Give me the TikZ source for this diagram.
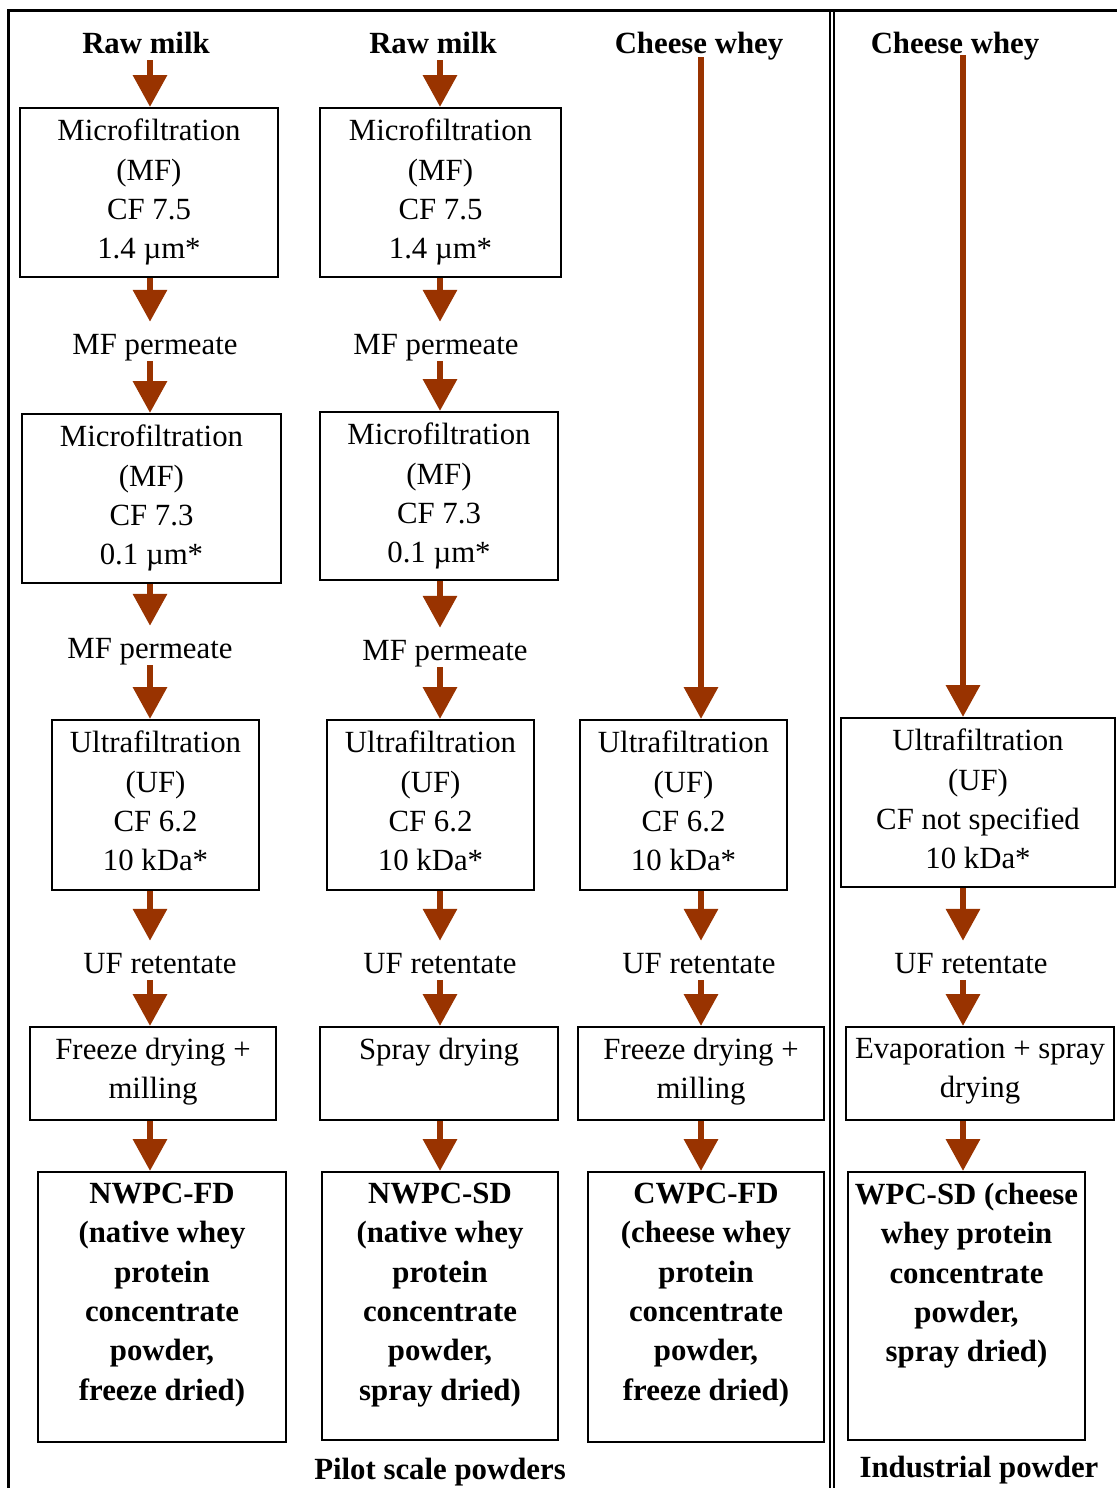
\documentclass[tikz,border=0pt]{standalone}
\usepackage{fontspec}
\setmainfont{Liberation Serif}
\usepackage{tikz}
\usetikzlibrary{positioning,arrows.meta}
\definecolor{flowbrown}{RGB}{153,51,0}

\begin{document}
\begin{tikzpicture}[
  x=1pt, y=-1pt,
  font=\fontsize{30.8}{39.3}\selectfont,
  procbox/.style={
    rectangle,
    draw=black,
    line width=2pt,
    inner sep=0pt
  },
  boxtext/.style={
    inner sep=0pt,
    align=center
  },
  prodtext/.style={
    boxtext,
    font=\fontsize{30.8}{39.3}\selectfont\bfseries
  },
  head/.style={
    inner sep=0pt,
    text depth=6pt,
    font=\fontsize{30.8}{39.3}\selectfont\bfseries
  },
  stream/.style={
    inner sep=0pt,
    text height=32pt,
    text depth=7pt
  },
  flow/.style={
    -{Triangle[width=33pt,length=32pt]},
    line width=6.5pt,
    draw=flowbrown
  }
]
\useasboundingbox (0,0) rectangle (1117,1488);

% Frame
\draw[line width=3pt] (8.5,1488) -- (8.5,11) -- (1117,11);
\draw[line width=2pt] (829.5,11) -- (829.5,1488);
\draw[line width=2pt] (833.5,11) -- (833.5,1488);

% Column axes
\coordinate (axa) at (150,0);
\coordinate (axb) at (440,0);
\coordinate (axc) at (701,0);
\coordinate (axd) at (963,0);

% Raw milk, route 1
\node[head, anchor=base] (rawa) at (146,54) {Raw milk};
\node[procbox, minimum width=258pt, minimum height=169pt] (mf1a) at (149,192.5) {};
\node[boxtext, below=12pt of mf1a.north] (mf1atxt) {Microfiltration\\(MF)\\CF 7.5\\1.4 µm*};
\node[stream, anchor=base] (perm1a) at (155,354) {MF permeate};
\node[procbox, minimum width=259pt, minimum height=169pt] (mf2a) at (151.5,498.5) {};
\node[boxtext, below=12pt of mf2a.north] (mf2atxt) {Microfiltration\\(MF)\\CF 7.3\\0.1 µm*};
\node[stream, anchor=base] (perm2a) at (150,658) {MF permeate};
\node[procbox, minimum width=207pt, minimum height=170pt] (ufa) at (155.5,805) {};
\node[boxtext, below=12pt of ufa.north] (ufatxt) {Ultrafiltration\\(UF)\\CF 6.2\\10 kDa*};
\node[stream, anchor=base] (reta) at (160,973) {UF retentate};
\node[procbox, minimum width=246pt, minimum height=93pt] (fda) at (153,1073.5) {};
\node[boxtext, below=12pt of fda.north] (fdatxt) {Freeze drying +\\milling};
\node[procbox, minimum width=248pt, minimum height=270pt] (proda) at (162,1307) {};
\node[prodtext, below=12pt of proda.north] (prodatxt) {NWPC-FD\\(native whey\\protein\\concentrate\\powder,\\freeze dried)};

% Raw milk, route 2
\node[head, anchor=base] (rawb) at (433,54) {Raw milk};
\node[procbox, minimum width=241pt, minimum height=169pt] (mf1b) at (440.5,192.5) {};
\node[boxtext, below=12pt of mf1b.north] (mf1btxt) {Microfiltration\\(MF)\\CF 7.5\\1.4 µm*};
\node[stream, anchor=base] (perm1b) at (436,354) {MF permeate};
\node[procbox, minimum width=238pt, minimum height=168pt] (mf2b) at (439,496) {};
\node[boxtext, below=12pt of mf2b.north] (mf2btxt) {Microfiltration\\(MF)\\CF 7.3\\0.1 µm*};
\node[stream, anchor=base] (perm2b) at (445,660) {MF permeate};
\node[procbox, minimum width=207pt, minimum height=170pt] (ufb) at (430.5,805) {};
\node[boxtext, below=12pt of ufb.north] (ufbtxt) {Ultrafiltration\\(UF)\\CF 6.2\\10 kDa*};
\node[stream, anchor=base] (retb) at (440,973) {UF retentate};
\node[procbox, minimum width=238pt, minimum height=93pt] (sdb) at (439,1073.5) {};
\node[boxtext, below=12pt of sdb.north] (sdbtxt) {Spray drying};
\node[procbox, minimum width=236pt, minimum height=268pt] (prodb) at (440,1306) {};
\node[prodtext, below=12pt of prodb.north] (prodbtxt) {NWPC-SD\\(native whey\\protein\\concentrate\\powder,\\spray dried)};

% Cheese whey, pilot
\node[head, anchor=base, text depth=4pt] (wheyc) at (699,53) {Cheese whey};
\node[procbox, minimum width=207pt, minimum height=170pt] (ufc) at (683.5,805) {};
\node[boxtext, below=12pt of ufc.north] (ufctxt) {Ultrafiltration\\(UF)\\CF 6.2\\10 kDa*};
\node[stream, anchor=base] (retc) at (699,973) {UF retentate};
\node[procbox, minimum width=246pt, minimum height=93pt] (fdc) at (701,1073.5) {};
\node[boxtext, below=12pt of fdc.north] (fdctxt) {Freeze drying +\\milling};
\node[procbox, minimum width=236pt, minimum height=270pt] (prodc) at (706,1307) {};
\node[prodtext, below=12pt of prodc.north] (prodctxt) {CWPC-FD\\(cheese whey\\protein\\concentrate\\powder,\\freeze dried)};

% Cheese whey, industrial
\node[head, anchor=base, text depth=2pt] (wheyd) at (955,53) {Cheese whey};
\node[procbox, minimum width=274pt, minimum height=169pt] (ufd) at (978,802.5) {};
\node[boxtext, below=12pt of ufd.north] (ufdtxt) {Ultrafiltration\\(UF)\\CF not specified\\10 kDa*};
\node[stream, anchor=base] (retd) at (971,973) {UF retentate};
\node[procbox, minimum width=268pt, minimum height=93pt] (evd) at (980,1073.5) {};
\node[boxtext, below=12pt of evd.north] (evdtxt) {Evaporation + spray\\drying};
\node[procbox, minimum width=237pt, minimum height=268pt] (prodd) at (966.5,1306) {};
\node[prodtext, below=12pt of prodd.north] (proddtxt) {WPC-SD (cheese\\whey protein\\concentrate\\powder,\\spray dried)};

% Captions
\node[head, anchor=base] (pilot) at (440,1479) {Pilot scale powders};
\node[head, anchor=base] (indus) at (979,1477) {Industrial powder};

% Flows
\draw[flow] (rawa.south -| axa) -- (mf1a.north -| axa);
\draw[flow] (mf1a.south -| axa) -- (perm1a.north -| axa);
\draw[flow] (perm1a.south -| axa) -- (mf2a.north -| axa);
\draw[flow] (mf2a.south -| axa) -- (perm2a.north -| axa);
\draw[flow] (perm2a.south -| axa) -- (ufa.north -| axa);
\draw[flow] (ufa.south -| axa) -- (reta.north -| axa);
\draw[flow] (reta.south -| axa) -- (fda.north -| axa);
\draw[flow] (fda.south -| axa) -- (proda.north -| axa);

\draw[flow] (rawb.south -| axb) -- (mf1b.north -| axb);
\draw[flow] (mf1b.south -| axb) -- (perm1b.north -| axb);
\draw[flow] (perm1b.south -| axb) -- (mf2b.north -| axb);
\draw[flow] (mf2b.south -| axb) -- (perm2b.north -| axb);
\draw[flow] (perm2b.south -| axb) -- (ufb.north -| axb);
\draw[flow] (ufb.south -| axb) -- (retb.north -| axb);
\draw[flow] (retb.south -| axb) -- (sdb.north -| axb);
\draw[flow] (sdb.south -| axb) -- (prodb.north -| axb);

\draw[flow] (wheyc.south -| axc) -- (ufc.north -| axc);
\draw[flow] (ufc.south -| axc) -- (retc.north -| axc);
\draw[flow] (retc.south -| axc) -- (fdc.north -| axc);
\draw[flow] (fdc.south -| axc) -- (prodc.north -| axc);

\draw[flow] (wheyd.south -| axd) -- (ufd.north -| axd);
\draw[flow] (ufd.south -| axd) -- (retd.north -| axd);
\draw[flow] (retd.south -| axd) -- (evd.north -| axd);
\draw[flow] (evd.south -| axd) -- (prodd.north -| axd);

\end{tikzpicture}
\end{document}
